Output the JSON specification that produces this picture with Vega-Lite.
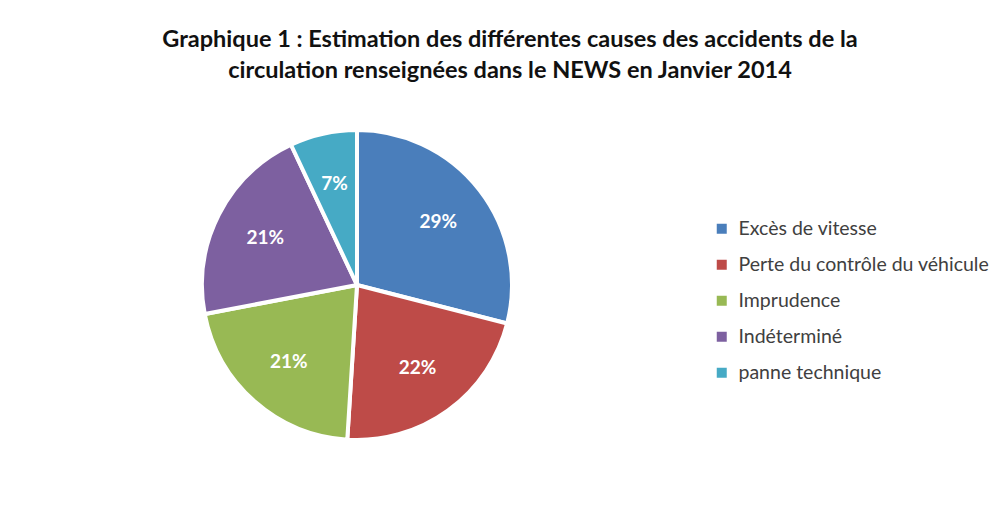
{
  "$schema": "https://vega.github.io/schema/vega-lite/v6.json",
  "width": 540,
  "height": 300,
  "padding": {"left": 87, "top": 27, "right": 10, "bottom": 10},
  "background": "white",
  "title": {
    "text": ["Graphique 1 : Estimation des différentes causes des accidents de la", "circulation renseignées dans le NEWS en  Janvier 2014"],
    "font": "Lato",
    "fontSize": 23.5,
    "fontWeight": "bold",
    "color": "#111111",
    "lineHeight": 31,
    "anchor": "middle",
    "frame": "group",
    "dx": 153,
    "offset": 40
  },
  "data": {
    "values": [
      {"cause": "Excès de vitesse", "pct": 29, "label": "29%", "n": 1},
      {"cause": "Perte du contrôle du véhicule", "pct": 22, "label": "22%", "n": 2},
      {"cause": "Imprudence", "pct": 21, "label": "21%", "n": 3},
      {"cause": "Indéterminé", "pct": 21, "label": "21%", "n": 4},
      {"cause": "panne technique", "pct": 7, "label": "7%", "n": 5}
    ]
  },
  "encoding": {
    "theta": {"field": "pct", "type": "quantitative", "stack": true},
    "order": {"field": "n", "type": "quantitative"},
    "color": {
      "field": "cause",
      "type": "nominal",
      "sort": null,
      "scale": {
        "domain": ["Excès de vitesse", "Perte du contrôle du véhicule", "Imprudence", "Indéterminé", "panne technique"],
        "range": ["#4A7EBB", "#BE4B48", "#98B954", "#7D60A0", "#46AAC5"]
      },
      "legend": {
        "title": null,
        "orient": "none",
        "legendX": 625,
        "legendY": 84,
        "symbolType": "square",
        "symbolSize": 100,
        "symbolStrokeWidth": 0,
        "labelFont": "Lato",
        "labelFontSize": 19.5,
        "labelColor": "#404040",
        "labelOffset": 7,
        "labelLimit": 400,
        "rowPadding": 15
      }
    }
  },
  "layer": [
    {
      "mark": {"type": "arc", "outerRadius": 155, "stroke": "white", "strokeWidth": 4}
    },
    {
      "mark": {"type": "text", "radius": 103, "font": "Lato", "fontSize": 19, "fontWeight": "bold", "fill": "white"},
      "encoding": {
        "text": {"field": "label", "type": "nominal"},
        "color": {"value": "white"}
      }
    }
  ],
  "config": {"view": {"stroke": null}}
}
